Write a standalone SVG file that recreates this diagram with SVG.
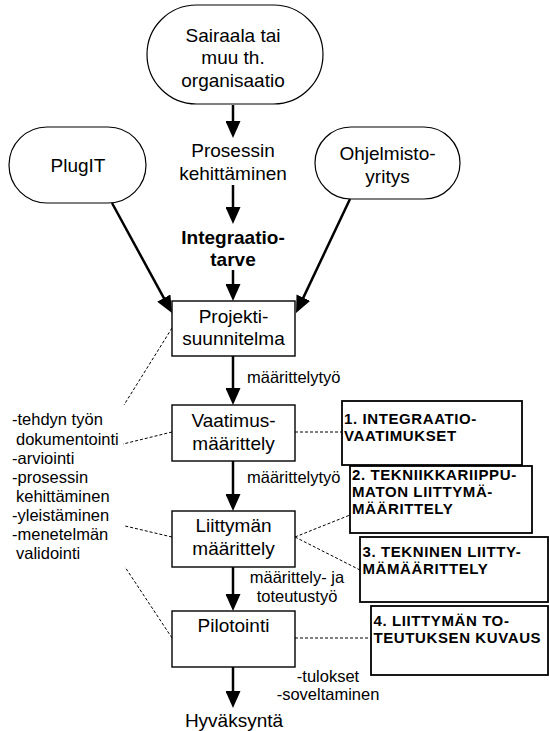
<svg xmlns="http://www.w3.org/2000/svg" width="549" height="731" viewBox="0 0 549 731">
<defs>
<marker id="ah" markerUnits="userSpaceOnUse" markerWidth="17" markerHeight="15" refX="11" refY="7.5" orient="auto">
<path d="M0,0 L17,7.5 L0,15 z" fill="#000"/>
</marker>
<style>
text{font-family:"Liberation Sans",Arial,sans-serif;fill:#000}
.m{font-size:19px;text-anchor:middle}
.b{font-weight:bold}
.s{font-size:16.5px}
.r{font-size:15px;font-weight:bold;letter-spacing:0.6px}
.pill{fill:#fff;stroke:#000;stroke-width:1.2}
.box{fill:#fff;stroke:#000;stroke-width:1.4}
.rbox{fill:#fff;stroke:#000;stroke-width:1.8}
.arr{stroke:#000;stroke-width:2.5;fill:none;marker-end:url(#ah)}
.dot{stroke:#000;stroke-width:1;stroke-dasharray:3 2;fill:none}
</style>
</defs>
<rect width="549" height="731" fill="#fff"/>

<g id="connectors">
<line class="arr" x1="233" y1="105" x2="233" y2="132"/>
<line class="arr" x1="233" y1="185" x2="233" y2="218"/>
<line class="arr" x1="233" y1="270" x2="233" y2="295"/>
<line class="arr" x1="112" y1="203" x2="169.1" y2="307.7"/>
<line class="arr" x1="350" y1="199" x2="298.6" y2="307.6"/>
<line class="arr" x1="233" y1="356" x2="233" y2="399"/>
<line class="arr" x1="233" y1="461" x2="233" y2="505"/>
<line class="arr" x1="233" y1="567" x2="233" y2="605"/>
<line class="arr" x1="233" y1="667" x2="233" y2="702"/>
<line class="dot" x1="172" y1="328" x2="124" y2="405"/>
<line class="dot" x1="172" y1="432" x2="123" y2="444"/>
<line class="dot" x1="172" y1="537" x2="125" y2="526"/>
<line class="dot" x1="172" y1="638" x2="125" y2="567"/>
<line class="dot" x1="295" y1="432" x2="342" y2="432"/>
<line class="dot" x1="295" y1="537" x2="350" y2="515"/>
<line class="dot" x1="295" y1="537" x2="360" y2="570"/>
<line class="dot" x1="295" y1="638" x2="371" y2="638"/>
<text class="s" x="247" y="383">määrittelytyö</text>
<text class="s" x="247" y="483">määrittelytyö</text>
<text class="s" x="297" y="583" text-anchor="middle">määrittely- ja</text>
<text class="s" x="297" y="602" text-anchor="middle">toteutustyö</text>
<text class="s" x="328" y="682" text-anchor="middle">-tulokset</text>
<text class="s" x="328" y="699.5" text-anchor="middle">-soveltaminen</text>
</g>

<g id="sairaala">
<rect class="pill" x="147" y="5" width="176" height="99" rx="49.5" ry="49.5"/>
<text class="m" x="233" y="41.5">Sairaala tai</text>
<text class="m" x="233" y="64">muu th.</text>
<text class="m" x="233" y="86.5">organisaatio</text>
</g>

<g id="plugit">
<rect class="pill" x="9" y="127" width="137" height="76" rx="38" ry="38"/>
<text class="m" x="78" y="172">PlugIT</text>
</g>

<g id="ohjelmistoyritys">
<rect class="pill" x="315" y="127" width="145" height="72" rx="36" ry="36"/>
<text class="m" x="387.5" y="160">Ohjelmisto-</text>
<text class="m" x="387.5" y="182.5">yritys</text>
</g>

<g id="prosessin-kehittaminen">
<text class="m" x="233" y="157">Prosessin</text>
<text class="m" x="233" y="180">kehittäminen</text>
</g>

<g id="integraatiotarve">
<text class="m b" x="233" y="243.5">Integraatio-</text>
<text class="m b" x="233" y="265.5">tarve</text>
</g>

<g id="projektisuunnitelma">
<rect class="box" x="172" y="301" width="123" height="55"/>
<text class="m" x="233.5" y="323">Projekti-</text>
<text class="m" x="233.5" y="345">suunnitelma</text>
</g>

<g id="vaatimusmaarittely">
<rect class="box" x="172" y="405" width="123" height="56"/>
<text class="m" x="233.5" y="426.5">Vaatimus-</text>
<text class="m" x="233.5" y="449.5">määrittely</text>
</g>

<g id="liittymanmaarittely">
<rect class="box" x="172" y="511" width="123" height="56"/>
<text class="m" x="233.5" y="532">Liittymän</text>
<text class="m" x="233.5" y="555">määrittely</text>
</g>

<g id="pilotointi">
<rect class="box" x="172" y="611" width="123" height="56"/>
<text class="m" x="233.5" y="632">Pilotointi</text>
</g>

<g id="hyvaksynta">
<text class="m" x="234" y="726.5">Hyväksyntä</text>
</g>

<g id="tyon-arviointi">
<text class="s" x="12" y="425">-tehdyn työn</text>
<text class="s" x="16" y="444.5">dokumentointi</text>
<text class="s" x="12" y="463.5">-arviointi</text>
<text class="s" x="12" y="483">-prosessin</text>
<text class="s" x="16" y="502">kehittäminen</text>
<text class="s" x="12" y="520.5">-yleistäminen</text>
<text class="s" x="12" y="539.5">-menetelmän</text>
<text class="s" x="16" y="559">validointi</text>
</g>

<g id="tulos1">
<rect class="rbox" x="342" y="401" width="180" height="64"/>
<text class="r" x="344" y="424">1. INTEGRAATIO-</text>
<text class="r" x="344" y="441">VAATIMUKSET</text>
</g>

<g id="tulos2">
<rect class="rbox" x="350" y="466" width="182" height="67"/>
<text class="r" x="352" y="480">2. TEKNIIKKARIIPPU-</text>
<text class="r" x="352" y="497">MATON LIITTYMÄ-</text>
<text class="r" x="352" y="514">MÄÄRITTELY</text>
</g>

<g id="tulos3">
<rect class="rbox" x="360" y="537" width="188" height="65"/>
<text class="r" x="362.5" y="557">3. TEKNINEN LIITTY-</text>
<text class="r" x="362.5" y="574">MÄMÄÄRITTELY</text>
</g>

<g id="tulos4">
<rect class="rbox" x="371" y="606" width="177" height="69"/>
<text class="r" x="373.5" y="626">4. LIITTYMÄN TO-</text>
<text class="r" x="373.5" y="643">TEUTUKSEN KUVAUS</text>
</g>
</svg>
